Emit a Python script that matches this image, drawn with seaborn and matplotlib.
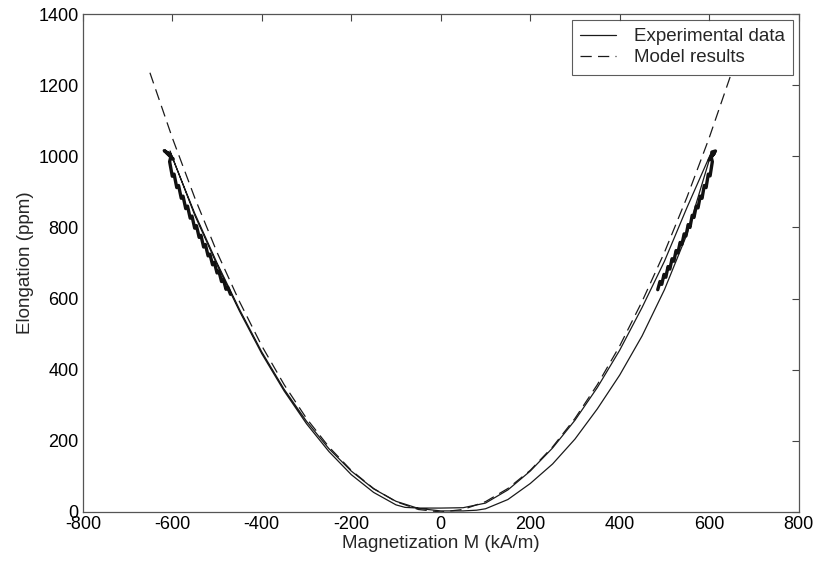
import numpy as np
import pandas as pd
import matplotlib
matplotlib.use("Agg")
import matplotlib.pyplot as plt
import seaborn as sns

# model curve (dashed)
model_m = [-650, -600, -550, -500, -450, -400, -350, -300, -250, -200, -150, -100, -50,
           0, 50, 100, 150, 200, 250, 300, 350, 400, 450, 500, 550, 600, 650]
model_e = [1235, 1052, 884, 730, 592, 467, 358, 263, 183, 117, 66, 29, 7,
           0, 7, 29, 66, 117, 183, 263, 358, 467, 592, 730, 884, 1052, 1235]

# experimental loop, branch with M increasing
up_m = [-605, -550, -500, -450, -400, -350, -300, -250, -200, -150, -100, -50,
        0, 50, 80, 100, 150, 200, 250, 300, 350, 400, 450, 500, 550, 605]
up_e = [1012, 840, 700, 570, 450, 345, 255, 178, 115, 65, 30, 10,
        3, 3, 5, 9, 35, 80, 135, 205, 290, 385, 495, 625, 780, 1010]

# experimental loop, branch with M decreasing
down_m = [605, 550, 500, 450, 400, 350, 300, 250, 200, 150, 100, 50,
          0, -50, -80, -100, -150, -200, -250, -300, -350, -400, -450, -500, -550, -605]
down_e = [1012, 855, 705, 575, 455, 350, 258, 180, 115, 62, 25, 12,
          11, 11, 13, 20, 55, 105, 170, 248, 340, 445, 565, 695, 835, 1015]

# noisy ends of the measurement
tip_r_m = [485, 490, 494, 499, 503, 508, 512, 517, 521, 526, 530, 535, 539, 544, 548, 553,
           557, 562, 566, 571, 575, 580, 584, 589, 593, 598, 602, 607, 604, 612, 600, 614, 606]
tip_r_e = [625, 648, 640, 668, 660, 690, 683, 712, 705, 735, 728, 758, 752, 782, 776, 808,
           800, 834, 828, 860, 855, 888, 882, 918, 912, 950, 945, 985, 1000, 1010, 990, 1015, 1012]
tip_l_m = [-470, -476, -480, -486, -490, -496, -500, -506, -510, -516, -520, -526, -530,
           -536, -540, -546, -550, -556, -560, -566, -570, -576, -580, -586, -590, -596,
           -600, -606, -603, -612, -598, -618, -608]
tip_l_e = [612, 632, 626, 655, 648, 678, 672, 702, 695, 725, 720, 752, 745,
           778, 772, 805, 798, 832, 826, 860, 853, 888, 882, 918, 912, 950,
           944, 985, 1000, 1010, 992, 1016, 1008]

sns.set_style("white")
plt.rcParams['font.family'] = ['Liberation Sans', 'DejaVu Sans']
plt.rcParams['axes.unicode_minus'] = False

fig = plt.figure(figsize=(8.2, 5.62), dpi=100)
ax = fig.add_axes([0.101, 0.089, 0.873, 0.886])

exp = pd.DataFrame({'M': up_m + down_m, 'E': up_e + down_e})
sns.lineplot(data=exp, x='M', y='E', sort=False, estimator=None, color='#1a1a1a',
             linewidth=0.9, ax=ax, label='Experimental data')
for tm, te in [(tip_r_m, tip_r_e), (tip_l_m, tip_l_e)]:
    sns.lineplot(x=tm, y=te, sort=False, estimator=None, color='#111111',
                 linewidth=2.4, ax=ax)
sns.lineplot(x=model_m, y=model_e, sort=False, estimator=None, color='#1a1a1a',
             linewidth=0.9, linestyle=(0, (9, 5)), ax=ax, label='Model results')

ax.set_xlim(-800, 800)
ax.set_ylim(0, 1400)
ax.set_xticks(np.arange(-800, 801, 200))
ax.set_yticks(np.arange(0, 1401, 200))
ax.tick_params(direction='in', length=5, width=0.8, top=True, right=True,
               labelsize=13, colors='#444444', labelcolor='black', pad=3)
for s in ax.spines.values():
    s.set_color('#555555')
    s.set_linewidth(0.9)

ax.set_xlabel('Magnetization M (kA/m)', fontsize=13.5, labelpad=1)
ax.set_ylabel('Elongation (ppm)', fontsize=13.5, labelpad=3)

leg = ax.legend(loc='upper right', fontsize=13.5, frameon=True, fancybox=False,
                borderaxespad=0.3, handlelength=1.9, handletextpad=0.95,
                borderpad=0.45, labelspacing=0.2)
leg.get_frame().set_edgecolor('#333333')
leg.get_frame().set_linewidth(0.8)

fig.savefig('out.png', dpi=100)
